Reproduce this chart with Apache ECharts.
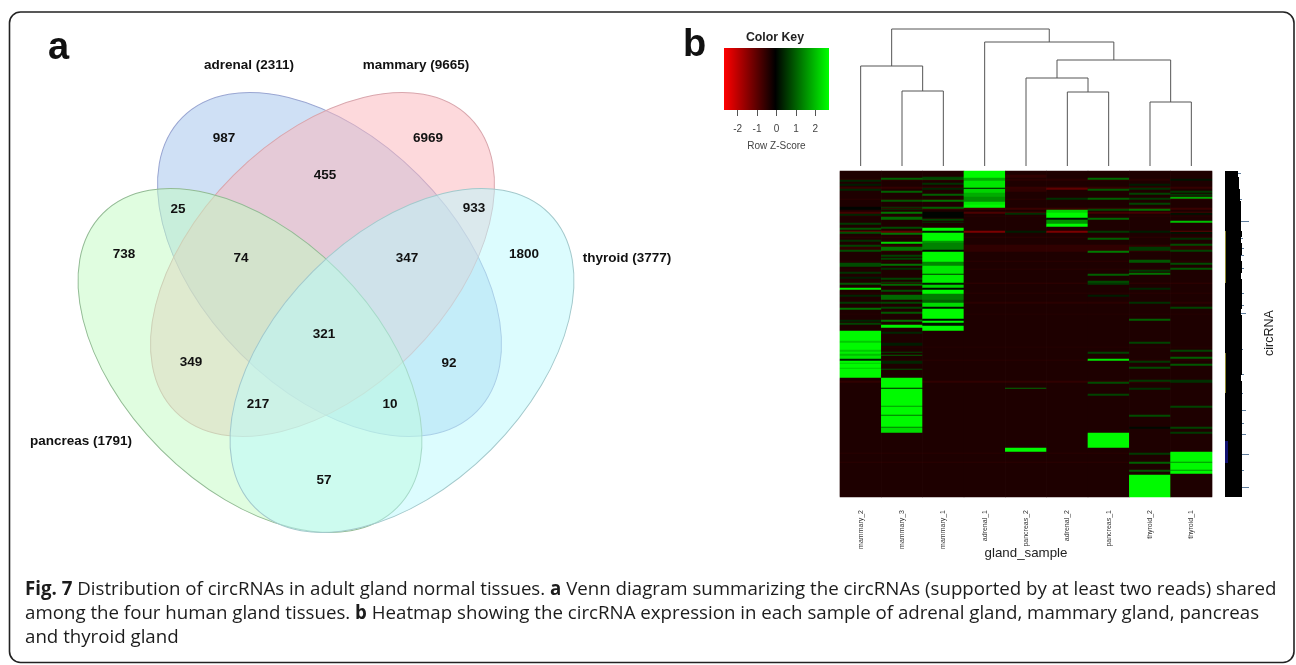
<!DOCTYPE html>
<html><head><meta charset="utf-8">
<style>html,body{margin:0;padding:0;background:#fff;overflow:hidden}#c{width:1296px;height:665px;filter:blur(.45px)}</style>
<script src="https://cdn.jsdelivr.net/npm/echarts@6/dist/echarts.min.js"></script>
</head><body><div id="c"></div>
<script>
// ---------- Venn values ----------
const setNames = ['adrenal (2311)','mammary (9665)','thyroid (3777)','pancreas (1791)'];
const setLabelX = [249,416,627,81];
const setLabelY = [65,65,258,441];
const regionCounts = ['987','6969','455','25','933','738','74','347','1800','321','349','92','217','10','57'];
const regionX = [224,428,325,178,474,124,241,407,524,324,191,449,258,390,324];
const regionY = [138,138,175,209,208,254,258,258,254,334,362,363,404,404,480];
// ellipses of the four sets, in axis units
const ellipseCx = [329.5,322.5,250,402];
const ellipseCy = [264.5,264.5,360.5,360.5];
const ellipseMajor = [208,208,208,208];
const ellipseMinor = [126,126,126,126];
const ellipseAngle = [45,-45,45,-45];
const petalFills = ['rgba(159,193,235,.5)','rgba(251,179,185,.5)','rgba(193,251,193,.5)','rgba(185,249,253,.5)'];
const petalStrokes = ['#9aa6d2','#d9a6ad','#93bb95','#a3c9cc'];

// ---------- heatmap values: runs of [firstRow, endRow, z] ----------
const samples = ['mammary_2','mammary_3','mammary_1','adrenal_1','pancreas_2','adrenal_2','pancreas_1','thyroid_2','thyroid_1'];
const rowCount = 326;
const baseRuns = [[0,1,-0.35],[8,10,-0.45],[16,18,-0.55],[28,29,-0.45],[37,39,-0.6],[41,43,-0.7],[45,46,-0.4],[60,62,-1.0],[66,67,-0.45],[74,81,-0.5],[90,91,-0.45],[98,99,-0.42],[112,113,-0.5],[122,123,-0.42],[131,133,-0.45],[143,144,-0.38],[176,177,-0.38],[189,190,-0.42],[210,212,-0.5],[282,283,-0.42],[291,292,-0.45]];
const mammary_2 = [[9,11,.4],[13,15,.3],[18,20,.4],[36,39,.05],[43,45,.4],[52,54,.6],[57,59,.9],[61,63,.8],[69,71,.5],[74,76,.7],[79,81,.8],[92,96,.8],[101,103,.5],[106,108,.3],[112,114,.9],[117,119,2.5],[124,126,.4],[131,133,.6],[137,139,1.2],[149,151,.4],[152,154,.7],[160,170,2.6],[170,172,2.1],[172,179,2.6],[179,181,2.1],[181,183,2.5],[183,185,2],[185,188,2.4],[188,190,.3],[190,192,2.6],[192,193,2.1],[193,197,2.6],[197,198,2.1],[198,207,2.6]];
const mammary_3 = [[7,9,1],[20,22,1],[29,31,.9],[36,37,.6],[38,39,.5],[41,43,1.2],[46,49,1.1],[56,58,.8],[62,64,1.2],[71,73,2.2],[76,80,1.2],[84,86,.7],[87,89,.7],[93,95,1.2],[97,99,.5],[107,109,.7],[111,112,.7],[113,115,1.1],[119,121,.8],[124,129,1.1],[131,133,.7],[136,138,.7],[141,143,.9],[149,151,1.2],[154,157,2.5],[161,163,.4],[172,175,.3],[181,182,.7],[184,185,1],[190,193,.4],[198,199,.8],[207,217,2.6],[217,218,.3],[218,235,2.6],[235,236,1.6],[236,244,2.6],[244,245,1.2],[245,256,2.6],[256,257,1.3],[257,262,2.3]];
const mammary_1 = [[6,8,.7],[8,9,.9],[12,14,.5],[17,19,.4],[23,25,1],[29,31,1.2],[36,38,1],[41,47,.05],[48,50,.7],[51,52,.5],[57,60,2.6],[60,62,.3],[62,70,2.6],[70,72,1.6],[72,79,1.35],[79,81,.1],[81,91,2.6],[91,95,1.4],[95,103,2.4],[103,104,.6],[104,112,2.5],[112,114,.3],[114,117,2.2],[117,119,.1],[119,123,2.6],[123,129,1.3],[129,132,1],[132,136,2.3],[136,138,.2],[138,148,2.6],[148,150,.1],[150,152,2.6],[152,155,.2],[155,160,2.6]];
const adrenal_1 = [[0,7,2.6],[7,10,1.8],[10,17,2.4],[17,18,.1],[18,22,2.2],[22,26,1.8],[26,31,1.5],[31,34,2.4],[34,37,2.6],[41,43,-.8],[60,62,-1.3]];
const pancreas_2 = [[4,7,-.5],[18,21,-.5],[37,38,-.6],[42,44,.5],[60,62,.3],[217,218,1.1],[277,281,2.6]];
const adrenal_2 = [[17,19,-1],[27,29,.5],[39,42,2.2],[42,47,2.6],[47,49,.2],[49,53,1.5],[53,56,2.6],[60,62,-1.3]];
const pancreas_1 = [[7,9,1.1],[18,20,.9],[27,29,1],[38,40,.8],[47,49,1.1],[60,62,.6],[67,69,1],[80,82,1.3],[103,105,1],[110,112,.8],[112,114,.6],[124,126,.3],[181,183,.7],[188,190,2.4],[211,213,.8],[223,225,.7],[262,277,2.6]];
const thyroid_2 = [[13,15,.3],[17,19,.5],[22,24,.7],[27,29,.6],[32,34,.7],[38,40,1.2],[60,62,.3],[76,80,.6],[89,92,.9],[99,101,.6],[102,104,1.2],[117,119,.4],[131,133,.5],[148,150,1],[171,173,.7],[190,192,.6],[196,198,.8],[209,211,.6],[217,219,.5],[244,246,.8],[256,258,.1],[282,284,.6],[291,293,1],[299,301,.9],[304,326,2.6]];
const thyroid_1 = [[8,10,.2],[20,22,.6],[23,25,.6],[26,28,1.8],[42,44,.2],[50,52,2],[61,63,.2],[67,69,.5],[73,75,.8],[79,81,.7],[92,94,.8],[97,99,.9],[136,138,.7],[179,181,.7],[186,188,1],[193,195,.9],[209,212,.5],[235,237,.7],[256,258,.7],[261,263,.6],[281,291,2.6],[291,292,1.5],[292,299,2.6],[299,300,1.5],[300,303,2.6]];
const sampleRuns = [mammary_2,mammary_3,mammary_1,adrenal_1,pancreas_2,adrenal_2,pancreas_1,thyroid_2,thyroid_1];

// ---------- dendrogram (hclust style: non-negative = leaf, negative = merge number) ----------
const mergeLeft  = [1,0,5,4,7,-4,3,-2];
const mergeRight = [2,-1,6,-3,8,-5,-6,-7];
const mergeHeight = [75,100,74,88,64,106,124,137];

// ---------- colour key ----------
const keyTicks = [-2,-1,0,1,2];
const keyRange = [-2.7,2.7];

// ---------- right-hand bar per block of 6 rows ----------
const sideBarWidths = [13,14,14,15,15,16,16,16,16,16,17,16,17,17,16,17,17,16,17,17,17,17,17,16,17,17,17,17,17,17,17,17,17,17,16,17,17,17,17,17,17,17,17,17,17,17,17,17,17,17,17,17,17,17,17];
const spikeRows = [2,28,50,67,77,84,97,122,134,142,178,203,222,239,252,263,283,299,316];
const spikeSizes = [3,2,8,2,2,3,2,2,2,5,1,2,1,4,2,4,7,2,7];
const edgeYellow = [[60,112],[182,222]];
const edgeBlue = [[270,292]];

// ---------- caption ----------
const captionLines = [
 '{b|Fig. 7} Distribution of circRNAs in adult gland normal tissues. {b|a} Venn diagram summarizing the circRNAs (supported by at least two reads) shared',
 'among the four human gland tissues. {b|b} Heatmap showing the circRNA expression in each sample of adrenal gland, mammary gland, pancreas',
 'and thyroid gland'];

// ---------- build ----------
const heatData = [];
samples.forEach(function(s,c){
  const col = new Array(rowCount).fill(-0.32);
  baseRuns.forEach(function(r){for(let i=r[0];i<r[1];i++)col[i]=r[2];});
  sampleRuns[c].forEach(function(r){for(let i=r[0];i<r[1];i++)col[i]=r[2];});
  col.forEach(function(z,r){heatData.push([c,r,z]);});
});
const rowNames = Array.from({length:rowCount},function(_,i){return String(i);});
function nodeX(n){return n>=0?n+0.5:(nodeX(mergeLeft[-n-1])+nodeX(mergeRight[-n-1]))/2;}
function nodeH(n){return n>=0?0:mergeHeight[-n-1];}
const barBody=[],barEdge=[],barSpike=[];
for(let r=0;r<rowCount;r++){
  const w=sideBarWidths[Math.floor(r/6)];
  let ec='#000', ew=1;
  edgeYellow.forEach(function(e){if(r>=e[0]&&r<e[1])ec='#8a8530';});
  edgeBlue.forEach(function(e){if(r>=e[0]&&r<e[1]){ec='#10106e';ew=3;}});
  barEdge.push({value:ew,itemStyle:{color:ec}});
  barBody.push(w-ew);
  const k=spikeRows.indexOf(r);
  barSpike.push(k>=0?spikeSizes[k]:0);
}
const SANS='"Liberation Sans",Arial,sans-serif';
const hiddenAxis={show:false};
const textLabel={show:true,position:'inside',formatter:'{b}',color:'#111',fontFamily:SANS,fontWeight:'bold',fontSize:13.5,opacity:1};
const chart=echarts.init(document.getElementById('c'),null,{renderer:'canvas'});
chart.setOption({
  animation:false,
  backgroundColor:'#fff',
  grid:[
    {left:0,top:0,width:1296,height:665},
    {left:840,top:26,width:372,height:140},
    {left:724,top:48,width:105,height:62},
    {left:840,top:171,width:372,height:326},
    {left:1225,top:171,width:32,height:326}
  ],
  xAxis:[
    Object.assign({type:'value',gridIndex:0,min:0,max:1296},hiddenAxis),
    Object.assign({type:'value',gridIndex:1,min:0,max:9},hiddenAxis),
    {type:'value',gridIndex:2,min:keyRange[0],max:keyRange[1],position:'bottom',
     splitLine:{show:false},axisLine:{show:false},
     axisTick:{show:true,length:6,lineStyle:{color:'#555',width:1},customValues:keyTicks},
     axisLabel:{show:true,color:'#444',fontFamily:SANS,fontSize:10,margin:14,customValues:keyTicks},
     name:'Row Z-Score',nameLocation:'middle',nameGap:31,
     nameTextStyle:{color:'#444',fontFamily:SANS,fontSize:10}},
    {type:'category',gridIndex:3,data:samples,position:'bottom',
     axisLine:{show:false},axisTick:{show:false},splitLine:{show:false},
     axisLabel:{rotate:90,interval:0,fontSize:7,color:'#333',fontFamily:SANS,margin:13},
     name:'gland_sample',nameLocation:'middle',nameGap:50,nameMoveOverlap:false,
     nameTextStyle:{color:'#222',fontFamily:SANS,fontSize:13.3}},
    Object.assign({type:'value',gridIndex:4,min:0,max:32},hiddenAxis)
  ],
  yAxis:[
    Object.assign({type:'value',gridIndex:0,min:0,max:665,inverse:true},hiddenAxis),
    Object.assign({type:'value',gridIndex:1,min:0,max:140},hiddenAxis),
    Object.assign({type:'value',gridIndex:2,min:0,max:1},hiddenAxis),
    {type:'category',gridIndex:3,data:rowNames,inverse:true,
     axisLine:{show:false},axisTick:{show:false},axisLabel:{show:false},splitLine:{show:false}},
    {type:'category',gridIndex:4,data:rowNames,inverse:true,show:false}
  ],
  visualMap:{show:false,seriesIndex:3,dimension:2,min:-2.65,max:2.65,
    inRange:{color:['#ff0000','#000000','#00ff00']}},
  series:[
    // Venn sets
    {type:'custom',xAxisIndex:0,yAxisIndex:0,clip:false,silent:true,
     data:ellipseCx.map(function(x,i){return [x,ellipseCy[i]];}),
     renderItem:function(params,api){
       const i=params.dataIndex,c=api.coord([api.value(0),api.value(1)]),s=api.size([1,1]);
       return {type:'ellipse',x:c[0],y:c[1],rotation:-ellipseAngle[i]*Math.PI/180,
         shape:{cx:0,cy:0,rx:ellipseMajor[i]*s[0],ry:ellipseMinor[i]*s[1]},
         style:{fill:petalFills[i],stroke:petalStrokes[i],lineWidth:1}};
     }},
    // Venn texts
    {type:'scatter',xAxisIndex:0,yAxisIndex:0,symbolSize:0,silent:true,z:5,itemStyle:{opacity:1},
     data:regionCounts.map(function(t,i){return {name:t,value:[regionX[i],regionY[i]]};}),
     label:textLabel},
    {type:'scatter',xAxisIndex:0,yAxisIndex:0,symbolSize:0,silent:true,z:5,itemStyle:{opacity:1},
     data:setNames.map(function(t,i){return {name:t,value:[setLabelX[i],setLabelY[i]]};}),
     label:textLabel},
    // Heatmap
    {type:'heatmap',xAxisIndex:3,yAxisIndex:3,data:heatData,progressive:0,silent:true,itemStyle:{borderWidth:0}},
    // Dendrogram
    {type:'custom',xAxisIndex:1,yAxisIndex:1,clip:false,silent:true,
     data:mergeHeight.map(function(h,i){return [i,h];}),
     renderItem:function(params,api){
       const i=params.dataIndex,h=mergeHeight[i];
       const lx=nodeX(mergeLeft[i]),rx=nodeX(mergeRight[i]);
       return {type:'polyline',
         shape:{points:[api.coord([lx,nodeH(mergeLeft[i])]),api.coord([lx,h]),api.coord([rx,h]),api.coord([rx,nodeH(mergeRight[i])])]},
         style:{fill:null,stroke:'#555',lineWidth:1}};
     }},
    // Colour key
    {type:'custom',xAxisIndex:2,yAxisIndex:2,silent:true,
     data:[[keyRange[0],keyRange[1]]],
     renderItem:function(params,api){
       const a=api.coord([keyRange[0],1]),b=api.coord([keyRange[1],0]);
       return {type:'rect',shape:{x:a[0],y:a[1],width:b[0]-a[0],height:b[1]-a[1]},
         style:{fill:new echarts.graphic.LinearGradient(0,0,1,0,[{offset:0,color:'#ff0000'},{offset:0.49,color:'#000000'},{offset:1,color:'#00ff00'}])}};
     }},
    // Side bar
    {type:'bar',xAxisIndex:4,yAxisIndex:4,stack:'side',data:barEdge,barCategoryGap:0,silent:true},
    {type:'bar',xAxisIndex:4,yAxisIndex:4,stack:'side',data:barBody,barCategoryGap:0,silent:true,itemStyle:{color:'#000'}},
    {type:'bar',xAxisIndex:4,yAxisIndex:4,stack:'side',data:barSpike,barCategoryGap:0,silent:true,itemStyle:{color:'#5f7d9c'}}
  ],
  graphic:[
    {type:'rect',z:100,silent:true,shape:{x:9.5,y:12,width:1284.5,height:650.5,r:11},style:{fill:null,stroke:'#222',lineWidth:1.6}},
    {type:'text',z:100,silent:true,x:48,y:30,style:{text:'a',fill:'#111',font:'bold 38px '+SANS}},
    {type:'text',z:100,silent:true,x:683,y:27,style:{text:'b',fill:'#111',font:'bold 38px '+SANS}},
    {type:'text',z:100,silent:true,x:775,y:37.5,style:{text:'Color Key',fill:'#222',font:'bold 12.3px '+SANS,align:'center',verticalAlign:'middle'}},
    {type:'text',z:100,silent:true,x:1270,y:333,rotation:Math.PI/2,style:{text:'circRNA',fill:'#222',font:'12.5px '+SANS,align:'center',verticalAlign:'middle'}}
  ].concat(captionLines.map(function(t,i){
    return {type:'text',z:100,silent:true,x:25,y:[590,614,638][i],
      style:{text:t,fill:'#1c1c1c',fontFamily:'"Open Sans"',fontSize:18.7,verticalAlign:'middle',
        rich:{b:{fontFamily:'"Open Sans"',fontSize:18.7,fontWeight:'bold',fill:'#1c1c1c'}}}};
  }))
});
</script></body></html>
